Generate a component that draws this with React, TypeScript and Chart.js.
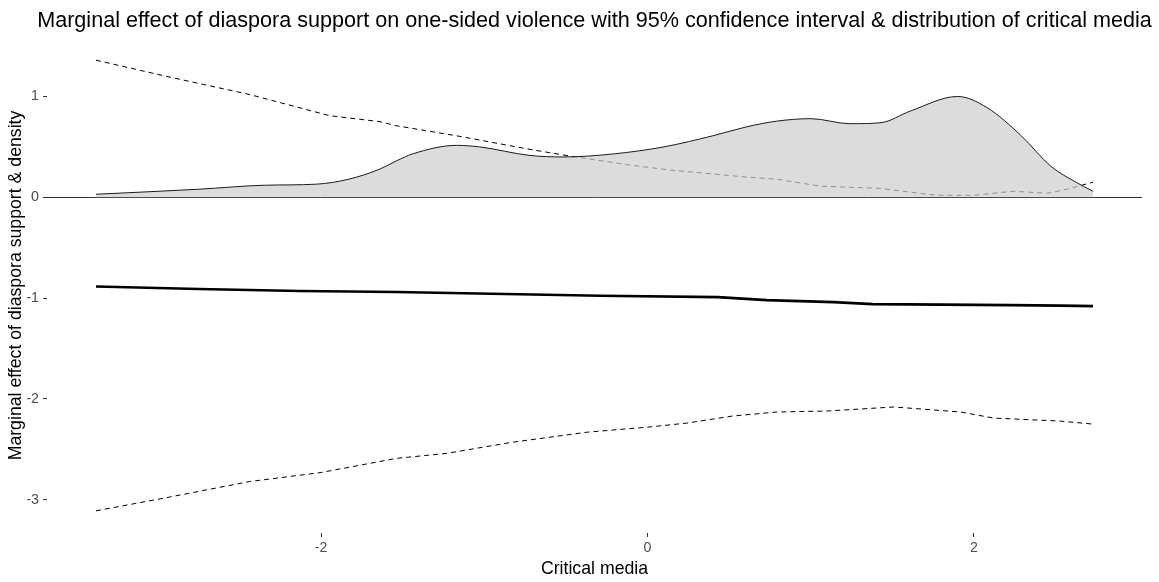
import { useEffect, useRef } from "react";
import { Chart, registerables } from "chart.js";

Chart.register(...registerables);

const FONT = "'Liberation Sans', Arial, Helvetica, sans-serif";

const TITLE =
  "Marginal effect of diaspora support on one-sided violence with 95% confidence interval & distribution of critical media";
const X_LABEL = "Critical media";
const Y_LABEL = "Marginal effect of diaspora support & density";

const X_TICKS = [-2, 0, 2];
const Y_TICKS = [-3, -2, -1, 0, 1];

// Density of critical media
const DENS_X = [-3.38, -2.75, -2.34, -2.03, -1.83, -1.64, -1.54, -1.44, -1.17, -1.03, -0.72, -0.52, -0.21, 0.1, 0.4, 0.61, 0.79, 1.0, 1.24, 1.43, 1.61, 1.9, 2.08, 2.29, 2.47, 2.63, 2.73];
const DENS_Y = [0.03, 0.08, 0.12, 0.13, 0.18, 0.28, 0.36, 0.43, 0.515, 0.5, 0.415, 0.4, 0.43, 0.5, 0.61, 0.7, 0.755, 0.78, 0.73, 0.74, 0.855, 1.0, 0.89, 0.61, 0.31, 0.145, 0.06];

// Upper 95% CI
const UP_X = [-3.38, -2.95, -2.44, -1.95, -1.64, -1.54, -1.17, -0.72, -0.48, -0.11, 0.14, 0.61, 0.79, 1.06, 1.41, 1.77, 2.0, 2.24, 2.45, 2.57, 2.73];
const UP_Y = [1.36, 1.2, 1.02, 0.81, 0.75, 0.71, 0.61, 0.475, 0.41, 0.32, 0.27, 0.2, 0.18, 0.11, 0.09, 0.02, 0.02, 0.06, 0.04, 0.08, 0.15];

// Lower 95% CI
const LO_X = [-3.38, -2.95, -2.44, -2.0, -1.54, -1.23, -0.83, -0.37, 0.0, 0.24, 0.52, 0.79, 1.1, 1.51, 1.92, 2.12, 2.53, 2.73];
const LO_Y = [-3.11, -2.98, -2.82, -2.73, -2.59, -2.54, -2.43, -2.33, -2.28, -2.24, -2.17, -2.13, -2.12, -2.08, -2.13, -2.19, -2.22, -2.25];

// Marginal effect
const ME_X = [-3.38, -2.75, -2.13, -1.54, -0.29, 0.43, 0.73, 1.14, 1.38, 2.22, 2.53, 2.73];
const ME_Y = [-0.885, -0.91, -0.93, -0.94, -0.977, -0.99, -1.02, -1.04, -1.06, -1.07, -1.075, -1.08];

const toPoints = (xs: number[], ys: number[]) => xs.map((x, i) => ({ x, y: ys[i] }));

const titlePlugin = {
  id: "panelTitle",
  afterDraw(chart: any) {
    const { ctx, chartArea } = chart;
    ctx.save();
    ctx.font = `21.6px ${FONT}`;
    ctx.fillStyle = "#000";
    ctx.textAlign = "center";
    ctx.textBaseline = "alphabetic";
    ctx.fillText(TITLE, (chartArea.left + chartArea.right) / 2, 27);
    ctx.restore();
  },
};

export default function App() {
  const ref = useRef<HTMLCanvasElement>(null);

  useEffect(() => {
    if (!ref.current) return;
    const chart = new Chart(ref.current, {
      type: "line",
      data: {
        datasets: [
          {
            label: "density",
            data: toPoints(DENS_X, DENS_Y),
            borderColor: "#1a1a1a",
            borderWidth: 1,
            backgroundColor: "rgba(204,204,204,0.69)",
            fill: "origin",
            cubicInterpolationMode: "monotone",
            pointRadius: 0,
            order: 0,
          },
          {
            label: "upper",
            data: toPoints(UP_X, UP_Y),
            borderColor: "#000",
            borderWidth: 1,
            borderDash: [5, 4],
            fill: false,
            pointRadius: 0,
            order: 1,
          },
          {
            label: "lower",
            data: toPoints(LO_X, LO_Y),
            borderColor: "#000",
            borderWidth: 1,
            borderDash: [5, 4],
            fill: false,
            pointRadius: 0,
            order: 1,
          },
          {
            label: "effect",
            data: toPoints(ME_X, ME_Y),
            borderColor: "#000",
            borderWidth: 2.6,
            fill: false,
            pointRadius: 0,
            order: 1,
          },
        ],
      },
      options: {
        responsive: false,
        animation: false,
        devicePixelRatio: 1,
        layout: { padding: { top: 38, right: 17, left: 0, bottom: 0 } },
        plugins: {
          legend: { display: false },
          tooltip: { enabled: false },
          title: { display: false },
        },
        scales: {
          x: {
            type: "linear",
            min: -3.68,
            max: 3.03,
            afterBuildTicks: (s: any) => {
              s.ticks = X_TICKS.map((v) => ({ value: v }));
            },
            afterFit: (s: any) => {
              s.height = 49;
            },
            border: { display: false },
            grid: {
              drawOnChartArea: false,
              color: "#333",
              tickColor: "#333",
              tickLength: 4,
              lineWidth: 1,
            },
            ticks: {
              color: "#4D4D4D",
              font: { family: FONT, size: 14.2 },
              padding: 3,
              maxRotation: 0,
              autoSkip: false,
            },
            title: {
              display: true,
              text: X_LABEL,
              color: "#000",
              font: { family: FONT, size: 17.7 },
              padding: { top: 0, bottom: 2 },
            },
          },
          y: {
            type: "linear",
            min: -3.33,
            max: 1.58,
            afterBuildTicks: (s: any) => {
              s.ticks = Y_TICKS.map((v) => ({ value: v }));
            },
            afterFit: (s: any) => {
              s.width = 47;
            },
            border: { display: false },
            grid: {
              color: (c: any) => (c.tick && c.tick.value === 0 ? "#333" : "rgba(0,0,0,0)"),
              tickColor: "#333",
              tickLength: 4,
              lineWidth: 1,
            },
            ticks: {
              color: "#4D4D4D",
              font: { family: FONT, size: 14.2 },
              padding: 4,
              autoSkip: false,
            },
            title: {
              display: true,
              text: Y_LABEL,
              color: "#000",
              font: { family: FONT, size: 17.7 },
              padding: { top: 5, bottom: 0 },
            },
          },
        },
      },
      plugins: [titlePlugin],
    });
    return () => chart.destroy();
  }, []);

  return (
    <div style={{ position: "absolute", left: 0, top: 0, width: 1159, height: 582, background: "#fff" }}>
      <canvas ref={ref} width={1159} height={582} />
    </div>
  );
}
